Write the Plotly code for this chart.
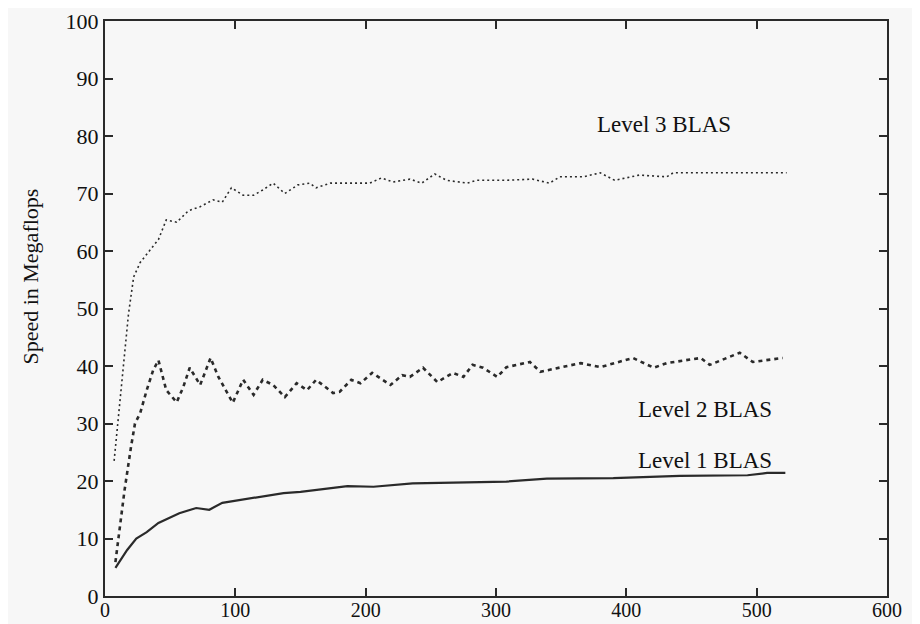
import plotly.graph_objects as go

# Level 1 BLAS (solid)
l1_x = [8, 17, 24, 32, 41, 50, 57, 70, 80, 90, 104, 119, 137, 150, 186, 206, 236, 288, 308, 339, 390, 441, 493, 508, 522]
l1_y = [4.9, 8.0, 10.0, 11.1, 12.7, 13.6, 14.4, 15.3, 15.0, 16.2, 16.7, 17.2, 17.9, 18.1, 19.1, 19.0, 19.6, 19.8, 19.9, 20.4, 20.5, 20.9, 21.0, 21.4, 21.4]

# Level 2 BLAS (dashed)
l2_x = [8, 11, 15, 20, 23, 27, 32, 37, 41, 47, 55, 60, 65, 73, 81, 87, 98, 106, 114, 121, 129, 138, 147, 155, 162, 175,
        180, 189, 196, 205, 219, 228, 234, 244, 255, 267, 275, 282, 290, 301, 308, 326, 334, 365, 380, 405, 421, 431,
        457, 464, 487, 497, 520]
l2_y = [5.9, 11.5, 18.4, 26.0, 30.0, 31.8, 35.8, 39.3, 41.0, 35.8, 33.7, 36.3, 39.7, 36.7, 41.4, 38.1, 33.6, 37.6, 35.0,
        37.6, 36.7, 34.6, 37.0, 35.8, 37.6, 35.3, 35.5, 37.6, 37.0, 38.8, 36.7, 38.4, 38.1, 39.7, 37.2, 38.8, 38.1, 40.2,
        39.7, 38.1, 39.8, 40.7, 39.0, 40.5, 39.8, 41.4, 39.7, 40.5, 41.4, 40.2, 42.3, 40.7, 41.4]

# Level 3 BLAS (dotted)
l3_x = [7, 18, 22, 27, 34, 41, 47, 55, 64, 73, 83, 90, 97, 106, 114, 121, 129, 138, 148, 157, 162, 173, 190, 203, 212,
        221, 234, 243, 253, 262, 278, 285, 308, 328, 341, 349, 367, 380, 391, 410, 431, 436, 457, 482, 500, 523]
l3_y = [23.5, 49.0, 55.5, 58.0, 60.0, 62.0, 65.4, 65.0, 67.0, 67.7, 68.9, 68.5, 71.0, 69.7, 69.7, 70.6, 71.8, 70.0, 71.5,
        71.8, 71.0, 71.8, 71.8, 71.8, 72.7, 72.0, 72.5, 71.8, 73.4, 72.3, 71.8, 72.3, 72.3, 72.5, 71.8, 72.9, 72.9, 73.6,
        72.3, 73.2, 72.9, 73.6, 73.6, 73.6, 73.5, 73.6]

series_labels = ["Level 1 BLAS", "Level 2 BLAS", "Level 3 BLAS"]
y_title = "Speed in Megaflops"
x_ticks = [0, 100, 200, 300, 400, 500, 600]
y_ticks = [0, 10, 20, 30, 40, 50, 60, 70, 80, 90, 100]

ink = "#2a2a2a"
serif = "Liberation Serif"

fig = go.Figure()
fig.add_trace(go.Scatter(x=l1_x, y=l1_y, mode="lines", line=dict(color=ink, width=2.2), name=series_labels[0]))
fig.add_trace(go.Scatter(x=l2_x, y=l2_y, mode="lines", line=dict(color=ink, width=2.6, dash="4px,4px"), name=series_labels[1]))
fig.add_trace(go.Scatter(x=l3_x, y=l3_y, mode="lines", line=dict(color=ink, width=1.6, dash="2px,3px"), name=series_labels[2]))

lab_font = dict(family=serif, size=23, color="#111")
fig.add_annotation(x=429, y=82, text=series_labels[2], showarrow=False, font=lab_font)
fig.add_annotation(x=460, y=32.5, text=series_labels[1], showarrow=False, font=lab_font)
fig.add_annotation(x=460, y=23.5, text=series_labels[0], showarrow=False, font=lab_font)
fig.add_annotation(xref="paper", yref="y", x=-0.095, y=55.5, xanchor="center", text=y_title, textangle=-90,
                   showarrow=False, font=dict(family=serif, size=22, color="#111"))

axis_common = dict(showline=True, linecolor=ink, linewidth=2, mirror="ticks", ticks="inside", ticklen=8,
                   tickwidth=1.5, tickcolor=ink, showgrid=False, zeroline=False, automargin=False)

fig.update_layout(
    width=920, height=624,
    margin=dict(l=97, r=41, t=13, b=36),
    paper_bgcolor="#f7f7f7", plot_bgcolor="#f7f7f7",
    showlegend=False,
    xaxis=dict(range=[0, 600], tickvals=x_ticks, ticklabelstandoff=-5,
               tickfont=dict(family=serif, size=20, color="#111"), **axis_common),
    yaxis=dict(range=[0, 100], tickvals=y_ticks,
               tickfont=dict(family=serif, size=22, color="#111"), **axis_common),
)

fig.write_html("out.html")
